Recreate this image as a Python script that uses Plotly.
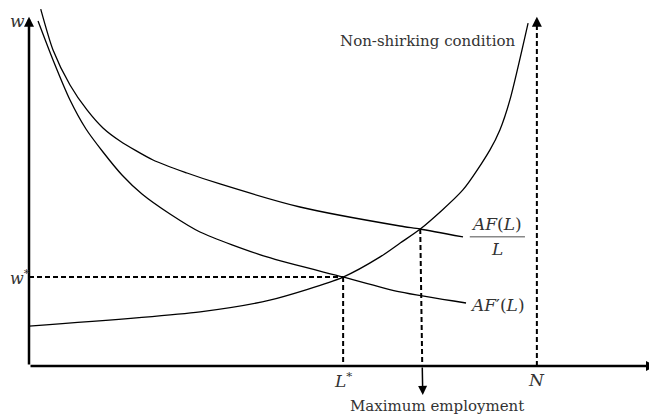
import plotly.graph_objects as go

# ---- readings from the reference (L on x, w on y; arbitrary 0-100 units) ----
af_avg_L = [1.87, 3.83, 6.54, 9.25, 11.80, 14.51, 19.78, 25.20, 30.46, 43.22, 59.17, 62.36, 69.22]
af_avg_w = [97.5, 86.34, 76.78, 69.95, 65.03, 61.48, 56.28, 52.73, 49.73, 43.44, 38.25, 37.43, 35.25]

af_marg_L = [1.44, 3.83, 6.54, 9.09, 11.80, 14.83, 18.02, 22.49, 27.27, 37.96, 50.08, 59.17, 69.70]
af_marg_w = [94.26, 83.61, 72.68, 64.75, 58.47, 52.19, 46.99, 41.53, 36.61, 29.78, 24.32, 20.22, 17.21]

nsc_L = [0, 27.3, 38.4, 50.1, 56.0, 59.2, 62.4, 69.2, 73.5, 75.1, 76.7, 79.6]
nsc_w = [10.9, 14.8, 18.0, 24.3, 29.8, 33.6, 37.4, 48.1, 59.0, 64.5, 72.7, 93.7]

L_star, w_star = 50.1, 24.3
L_max, w_max = 62.4, 37.4
L_max_tip, w_max_tip = 62.8, -7.9
N_val = 81.0
w_axis_top = 95.4
L_axis_end = 100.0

TXT = "#333333"
SERIF = "DejaVu Serif"

fig = go.Figure()

curve = dict(color="black", width=1.3, shape="spline", smoothing=0.7)
fig.add_trace(go.Scatter(x=af_avg_L, y=af_avg_w, mode="lines", line=curve))
fig.add_trace(go.Scatter(x=af_marg_L, y=af_marg_w, mode="lines", line=curve))
fig.add_trace(go.Scatter(x=nsc_L, y=nsc_w, mode="lines", line=curve))

dash = dict(color="black", width=2, dash="5px,3px")
fig.add_trace(go.Scatter(x=[0, L_star], y=[w_star, w_star], mode="lines", line=dash))
fig.add_trace(go.Scatter(x=[L_star, L_star], y=[w_star, 0], mode="lines", line=dash))
L_axis_cross = L_max + (L_max_tip - L_max) * 0.8
fig.add_trace(go.Scatter(x=[L_max, L_axis_cross], y=[w_max, 0], mode="lines", line=dash))
fig.add_trace(go.Scatter(x=[N_val, N_val], y=[0, w_axis_top - 2.5], mode="lines", line=dash))

arrow_common = dict(showarrow=True, axref="x", ayref="y", xref="x", yref="y",
                    arrowcolor="black", arrowhead=2, text="")
ann = []
ann.append(dict(x=L_axis_end, y=0, ax=0, ay=0, arrowwidth=2.5, arrowsize=0.8, **arrow_common))
ann.append(dict(x=0, y=w_axis_top, ax=0, ay=0, arrowwidth=2.5, arrowsize=0.8, **arrow_common))
ann.append(dict(x=N_val, y=w_axis_top, ax=N_val, ay=w_axis_top - 3, arrowwidth=2,
                arrowsize=1, **arrow_common))
ann.append(dict(x=L_max_tip, y=w_max_tip, ax=L_axis_cross, ay=0,
                arrowwidth=1.5, arrowsize=1.2, **arrow_common))

def label(x, y, text, size, xanchor="center", xref="x"):
    ann.append(dict(x=x, y=y, xref=xref, yref="y", text=text, showarrow=False,
                    xanchor=xanchor, yanchor="middle",
                    font=dict(family=SERIF, size=size, color=TXT)))

label(-1.9, 94.3, "<i>w</i>", 17)
label(0, w_star, "<i>w</i><sup>*</sup>", 16, xanchor="left", xref="paper")
label(L_star, -3.8, "<i>L</i><sup>*</sup>", 17)
label(N_val, -3.8, "<i>N</i>", 17)
label(65.1, -10.9, "Maximum employment", 15)
label(63.5, 88.8, "Non-shirking condition", 15)
label(74.6, 38.9, "<i>AF</i>(<i>L</i>)", 17)
label(74.6, 31.9, "<i>L</i>", 17)
label(74.8, 16.7, "<i>AF</i>′(<i>L</i>)", 17)

fig.add_shape(type="line", x0=70.3, x1=79.1, y0=35.3, y1=35.3, xref="x", yref="y",
              line=dict(color="#888888", width=1.5))

# page body has an 8px margin: size the figure to the remaining viewport
fig.update_layout(
    width=649, height=407,
    margin=dict(l=0, r=0, t=0, b=0),
    paper_bgcolor="white", plot_bgcolor="white",
    showlegend=False, hovermode=False,
    xaxis=dict(range=[-3.35, 100.16], visible=False, fixedrange=True),
    yaxis=dict(range=[-13.39, 97.81], visible=False, fixedrange=True),
    annotations=ann,
)
fig.write_html("out.html", config={"displayModeBar": False})
